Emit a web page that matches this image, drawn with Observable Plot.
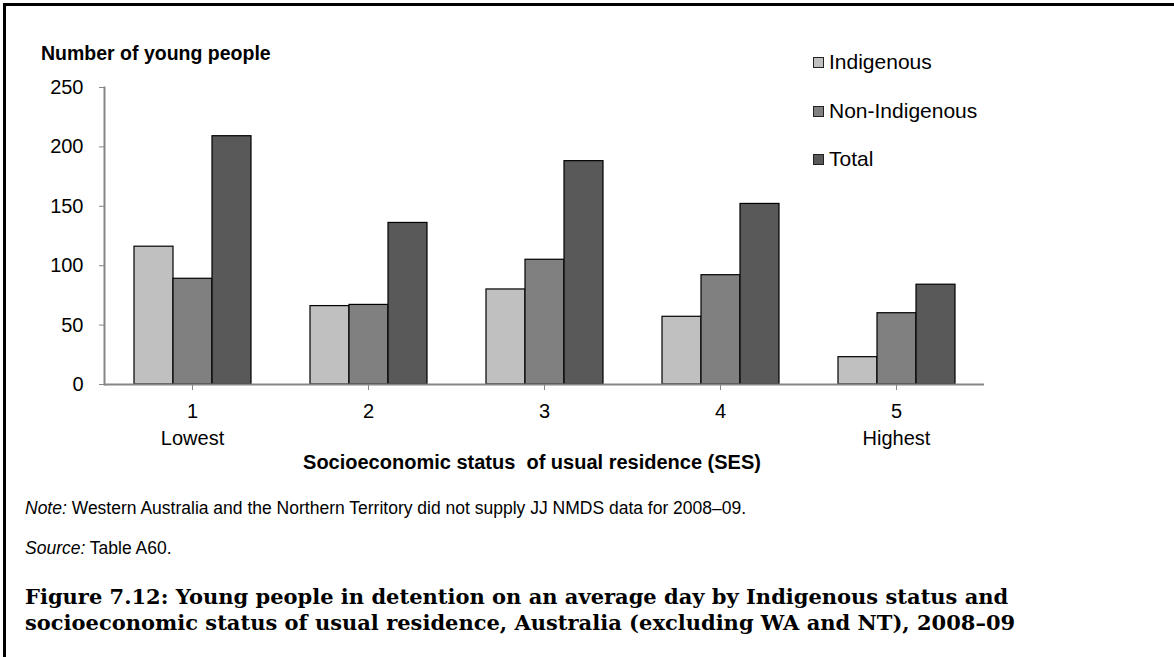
<!DOCTYPE html>
<html>
<head>
<meta charset="utf-8">
<script src="https://cdn.jsdelivr.net/npm/d3@7"></script>
<script src="https://cdn.jsdelivr.net/npm/@observablehq/plot@0.6"></script>
<style>
  body { margin: 0; background: #fff; font-family: "Liberation Sans", Arial, sans-serif; }
  #wrap { position: relative; width: 1174px; height: 657px; overflow: hidden; background: #fff; }
  #border { position: absolute; left: 3px; top: 3px; right: -10px; bottom: -10px; border-left: 3px solid #000; border-top: 3px solid #000; pointer-events: none; }
  #chart { position: absolute; left: 0; top: 0; }
  .abs { position: absolute; white-space: nowrap; color: #000; }
  #ytitle { left: 41px; top: 42px; font-size: 19.5px; font-weight: bold; }
  #xtitle { left: 532px; top: 451px; transform: translateX(-50%); font-size: 20px; font-weight: bold; }
  #legend .row { position: absolute; left: 813px; display: flex; align-items: center; font-size: 21px; height: 24px; }
  #legend .sw { width: 9px; height: 9px; border: 1px solid #222; margin-right: 5px; }
  #note { left: 25px; top: 498px; font-size: 17.5px; }
  #source { left: 25px; top: 538px; font-size: 17.5px; }
  #caption { left: 25px; top: 584px; font-family: "DejaVu Serif", "Liberation Serif", serif; font-weight: bold; font-size: 21px; line-height: 26px; }
</style>
</head>
<body>
<div id="wrap">
  <div id="chart"></div>
  <div id="ytitle" class="abs"></div>
  <div id="legend"></div>
  <div id="xtitle" class="abs"></div>
  <div id="note" class="abs"></div>
  <div id="source" class="abs"></div>
  <div id="caption" class="abs"></div>
  <div id="border"></div>
</div>
<script>
// ---- data ----
const sesLevels = ["1", "2", "3", "4", "5"];
const sesTickLabels = ["1\nLowest", "2", "3", "4", "5\nHighest"];
const seriesNames = ["Indigenous", "Non-Indigenous", "Total"];
const indigenous = [116, 66, 80, 57, 23];
const nonIndigenous = [89, 67, 105, 92, 60];
const total = [209, 136, 188, 152, 84];
const seriesColors = ["#c0c0c0", "#808080", "#595959"];
const yTicks = [0, 50, 100, 150, 200, 250];

const yTitle = "Number of young people";
const xTitle = "Socioeconomic status\u00a0 of usual residence (SES)";
const noteLabel = "Note:";
const noteText = " Western Australia and the Northern Territory did not supply JJ NMDS data for 2008\u201309.";
const sourceLabel = "Source:";
const sourceText = " Table A60.";
const captionLines = [
  "Figure 7.12: Young people in detention on an average day by Indigenous status and",
  "socioeconomic status of usual residence, Australia (excluding WA and NT), 2008\u201309"
];

// ---- table ----
const seriesValues = [indigenous, nonIndigenous, total];
const rows = [];
sesLevels.forEach((ses, i) => {
  seriesNames.forEach((s, j) => rows.push({ses, series: s, value: seriesValues[j][i]}));
});

const plot = Plot.plot({
  width: 1174,
  height: 470,
  marginLeft: 104,
  marginRight: 190,
  marginTop: 87,
  marginBottom: 86,
  style: {fontFamily: "'Liberation Sans', Arial, sans-serif", fontSize: "20px", color: "#000", background: "transparent"},
  y: {domain: [0, 250], ticks: yTicks},
  x: {domain: seriesNames, paddingInner: 0, paddingOuter: 0.74, axis: null},
  fx: {domain: sesLevels, padding: 0},
  color: {domain: seriesNames, range: seriesColors},
  marks: [
    Plot.axisY({ticks: yTicks, tickSize: 5, tickPadding: 16, stroke: "#868686", fill: "#000", label: null}),
    Plot.axisFx({anchor: "bottom", tickSize: 6, tickPadding: 8, stroke: "#868686", fill: "#000", label: null,
      lineHeight: 1.35,
      tickFormat: d => sesTickLabels[sesLevels.indexOf(d)]}),
    Plot.barY(rows, {fx: "ses", x: "series", y: "value", fill: "series", stroke: "#000", strokeWidth: 1.2}),
    Plot.ruleY([0], {stroke: "#868686", strokeWidth: 2}),
    Plot.frame({anchor: "left", facetAnchor: "left", stroke: "#868686", strokeWidth: 2})
  ]
});
document.getElementById("chart").appendChild(plot);

// ---- texts ----
document.getElementById("ytitle").textContent = yTitle;
document.getElementById("xtitle").textContent = xTitle;
const legendTops = [50, 99, 147];
const legend = document.getElementById("legend");
seriesNames.forEach((s, i) => {
  const row = document.createElement("div");
  row.className = "row";
  row.style.top = legendTops[i] + "px";
  const sw = document.createElement("span");
  sw.className = "sw";
  sw.style.background = seriesColors[i];
  const t = document.createElement("span");
  t.textContent = s;
  row.appendChild(sw); row.appendChild(t);
  legend.appendChild(row);
});
const note = document.getElementById("note");
const ni = document.createElement("i"); ni.textContent = noteLabel; note.appendChild(ni);
note.appendChild(document.createTextNode(noteText));
const src = document.getElementById("source");
const si = document.createElement("i"); si.textContent = sourceLabel; src.appendChild(si);
src.appendChild(document.createTextNode(sourceText));
const cap = document.getElementById("caption");
captionLines.forEach((l, i) => {
  if (i) cap.appendChild(document.createElement("br"));
  cap.appendChild(document.createTextNode(l));
});
</script>
</body>
</html>
